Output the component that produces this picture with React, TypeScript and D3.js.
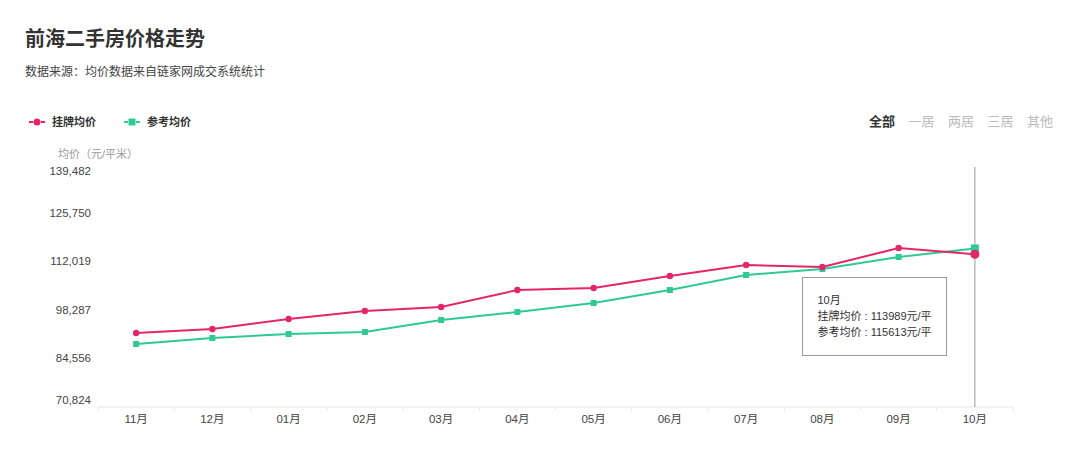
import { useEffect, useRef } from "react"
import * as d3 from "d3"

const months = ["11月", "12月", "01月", "02月", "03月", "04月", "05月", "06月", "07月", "08月", "09月", "10月"]
const listingPrice = [91730, 92860, 95685, 97946, 99078, 103879, 104444, 107834, 110943, 110377, 115746, 113989]
const referencePrice = [88624, 90318, 91447, 92014, 95403, 97664, 100207, 103879, 108117, 109812, 113202, 115613]
const yTicks = [70824, 84556, 98287, 112019, 125750, 139482]
const roomFilters = ["全部", "一居", "两居", "三居", "其他"]

const PINK = "#e3266a"
const GREEN = "#2fc993"
const FONT = "'Liberation Sans', 'Noto Sans CJK SC', sans-serif"

export default function App() {
  const svgRef = useRef<SVGSVGElement>(null)

  useEffect(() => {
    if (!svgRef.current) return
    const width = 1080
    const height = 464
    const svg = d3.select(svgRef.current).attr("width", width).attr("height", height)
    svg.selectAll("*").remove()
    svg.style("font-family", FONT)

    svg.append("rect").attr("width", width).attr("height", height).attr("fill", "#fff")

    // titulo
    svg.append("text").attr("x", 25).attr("y", 46).attr("font-size", 20).attr("font-weight", 700)
      .attr("fill", "#333").text("前海二手房价格走势")
    svg.append("text").attr("x", 25).attr("y", 76).attr("font-size", 12)
      .attr("fill", "#444").text("数据来源：均价数据来自链家网成交系统统计")

    // legenda
    const legend = [
      { name: "挂牌均价", color: PINK, shape: "circle", x: 29 },
      { name: "参考均价", color: GREEN, shape: "rect", x: 124 },
    ]
    legend.forEach((l) => {
      const g = svg.append("g").attr("transform", `translate(${l.x},122)`)
      g.append("line").attr("x1", 0).attr("x2", 4).attr("stroke", l.color).attr("stroke-width", 2)
      g.append("line").attr("x1", 12).attr("x2", 16).attr("stroke", l.color).attr("stroke-width", 2)
      if (l.shape === "circle") g.append("circle").attr("cx", 8).attr("r", 3.5).attr("fill", l.color)
      else g.append("rect").attr("x", 4.5).attr("y", -3.5).attr("width", 7).attr("height", 7).attr("fill", l.color)
      g.append("text").attr("x", 23).attr("y", 4).attr("font-size", 11).attr("font-weight", 700)
        .attr("fill", "#333").text(l.name)
    })

    // filtros
    roomFilters.forEach((f, i) => {
      svg.append("text").attr("x", 869 + i * 39.5).attr("y", 126).attr("font-size", 13)
        .attr("font-weight", i === 0 ? 700 : 400)
        .attr("fill", i === 0 ? "#333" : "#bbb").text(f)
    })

    const margin = { left: 98, right: 1013, top: 164, bottom: 407 }

    const x = d3.scaleBand().domain(months).range([margin.left, margin.right])
    const y = d3.scaleLinear().domain([yTicks[0], yTicks[yTicks.length - 1]]).range([margin.bottom, margin.top])

    // eixo y titulo
    svg.append("text").attr("x", 58).attr("y", 158).attr("font-size", 11).attr("fill", "#999")
      .text("均价（元/平米）")

    // eixo y rotulos
    yTicks.forEach((t, i) => {
      let yy = y(t) + 4
      if (i === 0) yy = y(t) - 3
      if (i === yTicks.length - 1) yy = y(t) + 11
      svg.append("text").attr("x", 91).attr("y", yy).attr("text-anchor", "end").attr("font-size", 11.5)
        .attr("fill", "#444").text(d3.format(",")(t))
    })

    // eixo x
    const xAxis = svg.append("g").attr("transform", `translate(0,${margin.bottom})`)
    xAxis.append("line").attr("x1", margin.left).attr("x2", margin.right).attr("stroke", "#e6e6e6")
    d3.range(months.length + 1).forEach((i) => {
      const xx = margin.left + i * x.step()
      xAxis.append("line").attr("x1", xx).attr("x2", xx).attr("y1", 0).attr("y2", 4).attr("stroke", "#e6e6e6")
    })
    months.forEach((m) => {
      xAxis.append("text").attr("x", (x(m) || 0) + x.bandwidth() / 2).attr("y", 16)
        .attr("text-anchor", "middle").attr("font-size", 11.5).attr("fill", "#444").text(m)
    })

    const cx = (i: number) => (x(months[i]) || 0) + x.bandwidth() / 2

    // linha vertical
    const last = months.length - 1
    svg.append("line").attr("x1", cx(last)).attr("x2", cx(last)).attr("y1", 167).attr("y2", margin.bottom)
      .attr("stroke", "#999")

    const line = d3.line<number>().x((_, i) => cx(i)).y((d) => y(d))

    svg.append("path").datum(referencePrice).attr("fill", "none").attr("stroke", GREEN)
      .attr("stroke-width", 2).attr("d", line)
    svg.append("path").datum(listingPrice).attr("fill", "none").attr("stroke", PINK)
      .attr("stroke-width", 2).attr("d", line)

    referencePrice.forEach((d, i) => {
      const s = i === last ? 8 : 6
      svg.append("rect").attr("x", cx(i) - s / 2).attr("y", y(d) - s / 2).attr("width", s).attr("height", s)
        .attr("fill", GREEN)
    })
    listingPrice.forEach((d, i) => {
      svg.append("circle").attr("cx", cx(i)).attr("cy", y(d)).attr("r", i === last ? 4.5 : 3.2)
        .attr("fill", PINK)
    })

    // tooltip
    const tip = svg.append("g").attr("transform", "translate(802.5,277.5)")
    tip.append("rect").attr("width", 144).attr("height", 78).attr("fill", "#fff").attr("stroke", "#999")
    tip.append("text").attr("x", 15).attr("y", 26).attr("font-size", 11).attr("fill", "#333").text(months[last])
    tip.append("text").attr("x", 15).attr("y", 42).attr("font-size", 11).attr("fill", "#333")
      .text(`挂牌均价 : ${listingPrice[last]}元/平`)
    tip.append("text").attr("x", 15).attr("y", 58).attr("font-size", 11).attr("fill", "#333")
      .text(`参考均价 : ${referencePrice[last]}元/平`)
  }, [])

  return <svg ref={svgRef} style={{ position: "absolute", left: 0, top: 0 }} />
}
